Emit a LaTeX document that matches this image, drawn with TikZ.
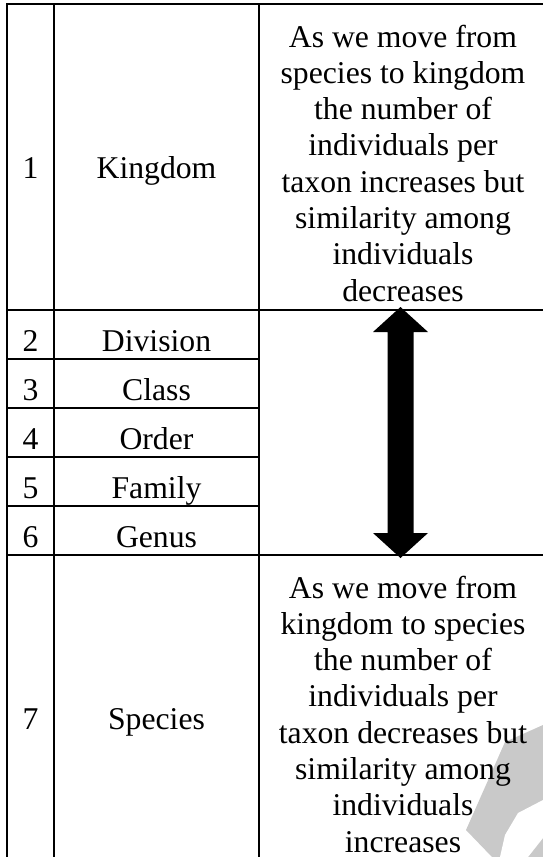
\documentclass[tikz,border=0pt]{standalone}
\usepackage{fontspec}
\setmainfont{Liberation Serif}
\begin{document}
\begin{tikzpicture}[x=1pt,y=-1pt,
  grid/.style={line width=1.5pt, line cap=rect},
  txt/.style={font=\fontsize{31.7}{36.3}\selectfont, inner sep=0pt, text=black},
  para/.style={txt, align=center, anchor=north},
  cell/.style={txt, anchor=base},
  wm/.style={fill=black!21},
  bigarrow/.style={fill=black}]
\useasboundingbox (0,0) rectangle (543,857);
% watermark fragment
\fill[wm] (505,742) -- (543,725) -- (543,857) -- (492,857) -- (466,830) -- cycle;
\fill[white] (518,813) -- (543,800) -- (543,838) -- (528,857) -- (500,857) -- (505,835) -- cycle;
% grid
\draw[grid] (7,4) -- (543,4);
\draw[grid] (7,4) -- (7,857);
\draw[grid] (54,4) -- (54,857);
\draw[grid] (259,4) -- (259,857);
\draw[grid] (7,310) -- (543,310);
\foreach \yy in {359,408,457,506} \draw[grid] (7,\yy) -- (259,\yy);
\draw[grid] (7,555) -- (543,555);
% double arrow
\fill[bigarrow] (400.5,307) -- (428,332) -- (413.5,332) -- (413.5,533) -- (428,533) -- (400.5,558)
  -- (373,533) -- (387.5,533) -- (387.5,332) -- (373,332) -- cycle;
% left columns
\node[cell] (n1) at (30.5,178) {1};
\node[cell] (r1) at (156.5,178) {Kingdom};
\node[cell] (n2) at (30.5,351) {2};
\node[cell] (r2) at (156.5,351) {Division};
\node[cell] (n3) at (30.5,400) {3};
\node[cell] (r3) at (156.5,400) {Class};
\node[cell] (n4) at (30.5,449) {4};
\node[cell] (r4) at (156.5,449) {Order};
\node[cell] (n5) at (30.5,498) {5};
\node[cell] (r5) at (156.5,498) {Family};
\node[cell] (n6) at (30.5,547) {6};
\node[cell] (r6) at (156.5,547) {Genus};
\node[cell] (n7) at (30.5,729) {7};
\node[cell] (r7) at (156.5,729) {Species};
% right column texts
\node[para] (top) at (403,24.5) {As we move from\\species to kingdom\\the number of\\individuals per\\taxon increases but\\similarity among\\individuals\\decreases};
\node[para] (bot) at (403,575.5) {As we move from\\kingdom to species\\the number of\\individuals per\\taxon decreases but\\similarity among\\individuals\\increases};
\end{tikzpicture}
\end{document}
